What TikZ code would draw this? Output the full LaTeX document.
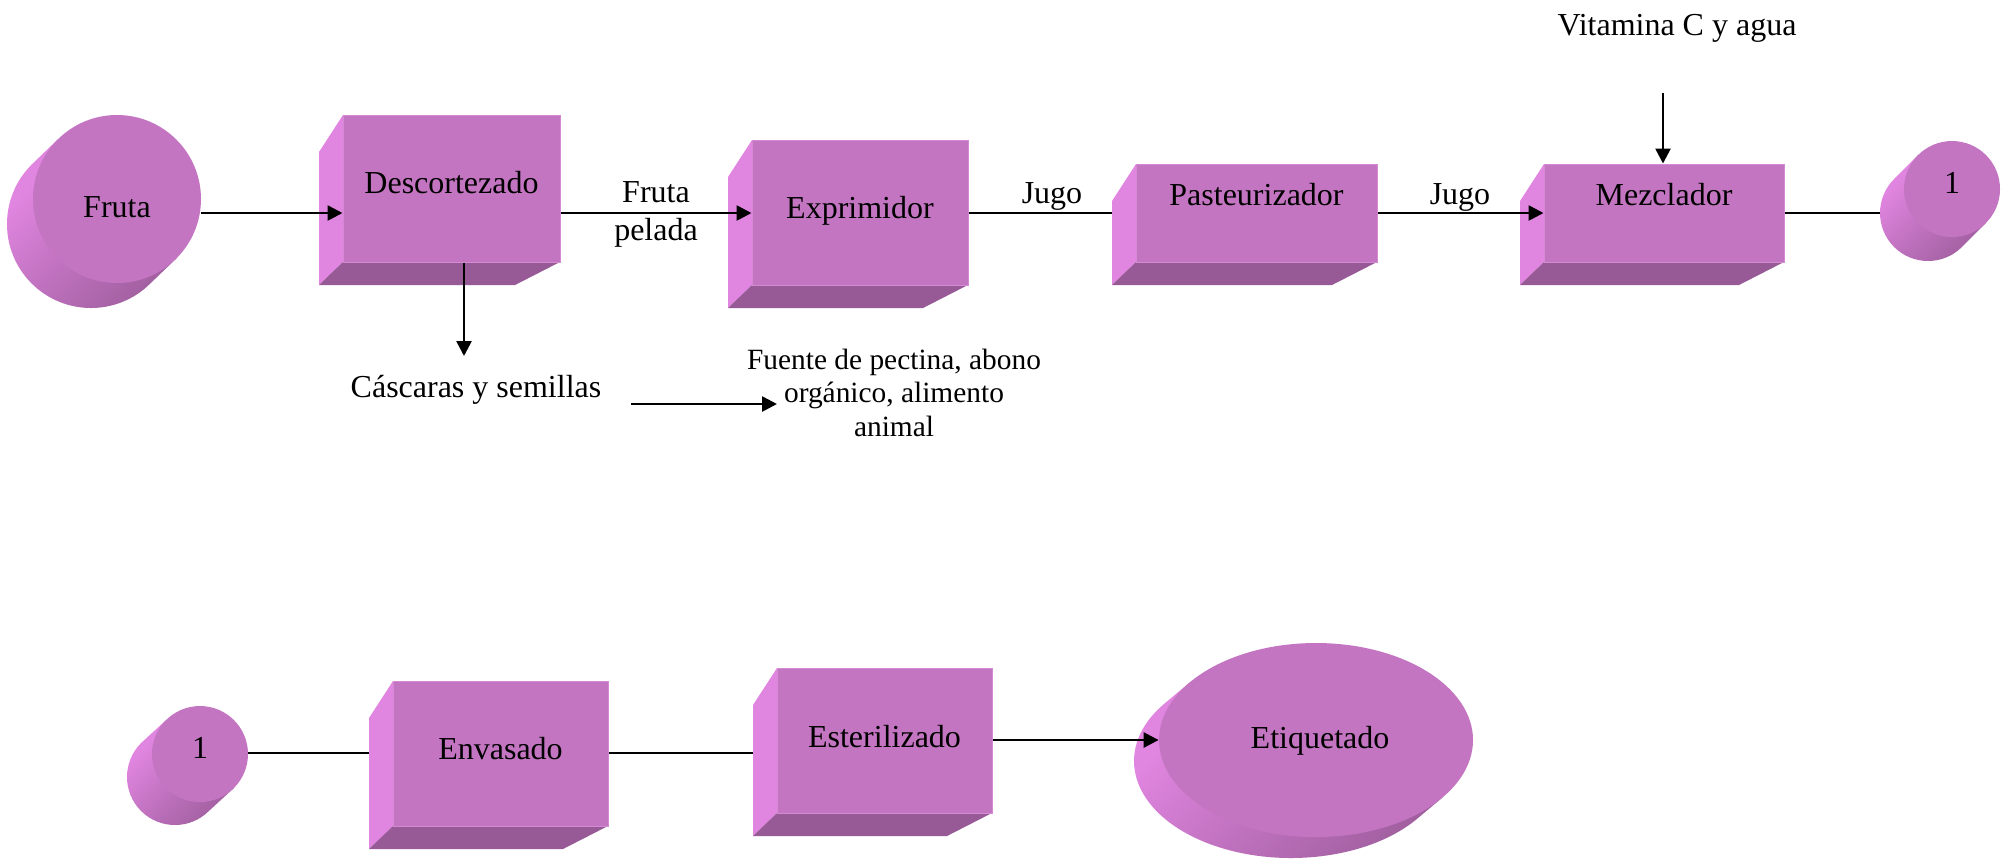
\documentclass[tikz,border=0pt]{standalone}
\usepackage{fontspec}
\setmainfont{Liberation Serif}
\usetikzlibrary{arrows.meta,calc,fit,shapes.geometric}

\definecolor{facec}{HTML}{C475C2}
\definecolor{sidec}{HTML}{E085E0}
\definecolor{botc}{HTML}{985A96}
\definecolor{rimc}{HTML}{D48AD2}

% light on the upper-left flank of a drum, dark on the lower-right flank
\pgfdeclarehorizontalshading{drumshade}{100bp}{%
  color(0bp)=(sidec); color(30bp)=(sidec); color(52bp)=(sidec!55!botc);
  color(82bp)=(botc); color(100bp)=(botc)}

\tikzset{
  ln/.style={line width=1.3pt},
  arr/.style={ln, -{Triangle[length=7.5pt,width=7.5pt]}},
  txt/.style={font=\fontsize{16}{18.5}\selectfont, inner sep=0pt},
  smalltxt/.style={font=\fontsize{14.7}{16.75}\selectfont, inner sep=0pt, align=center},
  bodyshade/.style={shading=drumshade, shading angle=-45},
}

% 3-D process block: name, x1, y1, x2, y2 (front face), text, text baseline
\newcommand\procbox[7]{%
  \coordinate (#1-nw) at (#2,#3);
  \coordinate (#1-se) at (#4,#5);
  \coordinate (#1-sw) at (#2,#5);
  \fill[sidec] (#1-nw) -- (#1-sw) -- ++(-24,23) -- ($(#1-nw)+(-24,37)$) -- cycle;
  \fill[botc] (#1-sw) -- (#1-se) -- ++(-45,23) -- ($(#1-sw)+(-24,23)$) -- cycle;
  \node[fit=(#1-nw)(#1-se), inner sep=0pt, fill=facec, draw=rimc, line width=0.5pt] (#1) {};
  \coordinate (#1-sl) at ($(#1-nw)+(-24,0)$);
  \node[txt, anchor=base] (#1-t) at (#1.center |- 0,#7) {#6};
}

% round drum: name, cx, cy, radius, back offset dx, dy, text, text baseline
\newcommand\drum[8]{%
  \coordinate (#1-c) at (#2,#3);
  \node[circle, inner sep=0pt, minimum size=#4pt] (#1B) at ($(#1-c)+(#5,#6)$) {};
  \shade[bodyshade]
    ($(#1-c)+(45:#4)$) -- ($(#1B)+(45:#4)$)
    arc[start angle=45, end angle=225, radius=#4]
    -- ($(#1-c)+(225:#4)$) -- cycle;
  \node[circle, inner sep=0pt, minimum size=#4pt, fill=facec] (#1) at (#1-c) {};
  \node[txt, anchor=base] (#1-t) at (#2,#8) {#7};
}

\begin{document}
\begin{tikzpicture}[x=0.5pt, y=-0.5pt]
\useasboundingbox (0,0) rectangle (2012,859);

% ---------- upper line ----------
\drum{fruta}{117}{199}{84}{-26}{25}{Fruta}{217}
\procbox{desc}{343}{115}{560}{262}{Descortezado}{193}
\procbox{expr}{752}{140}{968}{285}{Exprimidor}{218}
\procbox{past}{1136}{164}{1377}{262}{Pasteurizador}{205}
\procbox{mezc}{1544}{164}{1784}{262}{Mezclador}{205}
\drum{oneA}{1952}{189}{48}{-24}{24}{1}{193}

\coordinate (r1) at (0,213);
\draw[arr] (fruta.east |- r1) -- (desc.west |- r1);
\draw[arr] (desc.east |- r1) -- (expr.west |- r1);
\draw[ln]  (expr.east |- r1) -- (past-sl |- r1);
\draw[arr] (past.east |- r1) -- (mezc.west |- r1);
\draw[ln]  (mezc.east |- r1) -- (oneAB.west);

\node[txt, align=center, font=\fontsize{16}{19.3}\selectfont] (lblpel) at (656,214.5) {Fruta\\pelada};
\node[txt, anchor=base] (lblj1) at (1052,203) {Jugo};
\node[txt, anchor=base] (lblj2) at (1460,204) {Jugo};

% additive feed
\node[txt, anchor=base] (vit) at (1677,35) {Vitamina C y agua};
\coordinate (vitA) at (1663,93);
\draw[arr] (vitA) -- (mezc.north -| vitA);

% peel by-product
\coordinate (casIn) at (464,356);
\draw[arr] (desc.south -| casIn) -- (casIn);
\node[txt, anchor=base] (cas) at (476,397) {Cáscaras y semillas};
\coordinate (resA) at (631,404);
\coordinate (resB) at (777,404);
\draw[arr] (resA) -- (resB);
\node[smalltxt] (uso) at (894,392.5) {Fuente de pectina, abono\\orgánico, alimento\\animal};

% ---------- lower line ----------
\drum{oneB}{200}{754}{48}{-25}{23}{1}{758}
\procbox{enva}{393}{681}{608}{826}{Envasado}{759}
\procbox{este}{777}{668}{992}{813}{Esterilizado}{747}

% labelling drum (elliptical)
\coordinate (eti-c) at (1316,740);
\node[ellipse, inner sep=0pt, minimum width=157pt, minimum height=97pt] (etiB) at ($(eti-c)+(-25,21)$) {};
\shade[bodyshade]
  ($(eti-c)+(36.3:157 and 97)$) -- ($(etiB)+(36.3:157 and 97)$)
  arc[start angle=36.3, end angle=216.3, x radius=157, y radius=97]
  -- ($(eti-c)+(216.3:157 and 97)$) -- cycle;
\node[ellipse, inner sep=0pt, minimum width=157pt, minimum height=97pt, fill=facec] (eti) at (eti-c) {};
\node[txt, anchor=base] (eti-t) at (1320,748) {Etiquetado};

\coordinate (r2) at (0,753);
\draw[ln]  (oneB.east |- r2) -- (enva-sl |- r2);
\draw[ln]  (enva.east |- r2) -- (este-sl |- r2);
\draw[arr] (este.east |- eti.west) -- (eti.west);

\end{tikzpicture}
\end{document}
